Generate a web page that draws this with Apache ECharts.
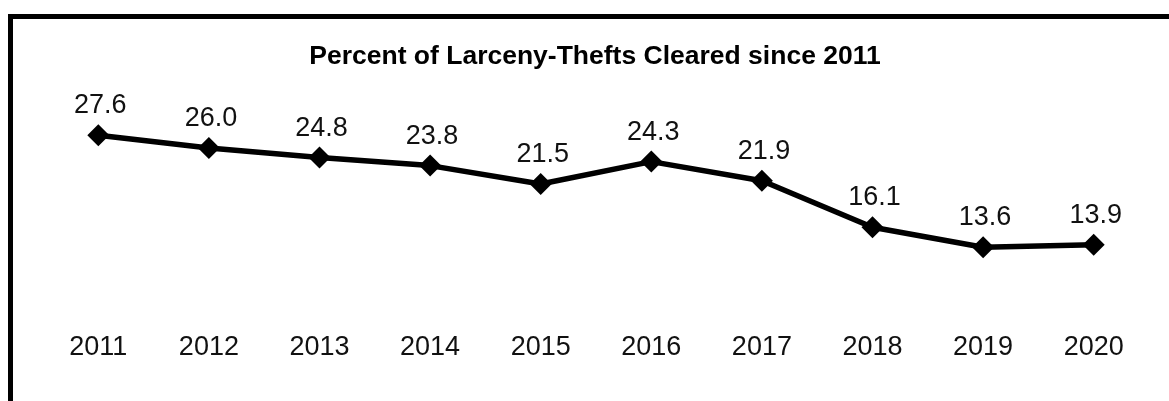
<!DOCTYPE html>
<html>
<head>
<meta charset="utf-8">
<script src="https://cdn.jsdelivr.net/npm/echarts@6/dist/echarts.min.js"></script>
<style>
  html, body { margin: 0; padding: 0; background: #fff; }
  #frame {
    position: absolute; left: 8px; top: 14px; width: 1300px; height: 500px;
    border-top: 5px solid #000; border-left: 5px solid #000;
  }
  #chart { position: absolute; left: 0; top: 0; width: 1169px; height: 401px; }
</style>
</head>
<body>
<div id="frame"></div>
<div id="chart"></div>
<script>
// 年份 / 破案率
const years = ['2011', '2012', '2013', '2014', '2015', '2016', '2017', '2018', '2019', '2020'];
const cleared = [27.6, 26.0, 24.8, 23.8, 21.5, 24.3, 21.9, 16.1, 13.6, 13.9];

const chart = echarts.init(document.getElementById('chart'));
const font = '"Liberation Sans", Arial, sans-serif';

chart.setOption({
    animation: false,
    title: {
        text: 'Percent of Larceny-Thefts Cleared since 2011',
        left: 590,
        top: 38,
        textAlign: 'center',
        textStyle: { fontFamily: font, fontSize: 26.5, fontWeight: 'bold', color: '#000' }
    },
    grid: { left: 43, right: 20, top: 116, bottom: 45 },
    xAxis: {
        type: 'category',
        data: years,
        axisLine: { show: false },
        axisTick: { show: false },
        axisLabel: { margin: -22, fontFamily: font, fontSize: 27, color: '#111' }
    },
    yAxis: {
        type: 'value',
        min: 0,
        max: 30,
        show: false
    },
    series: [{
        type: 'line',
        data: cleared,
        symbol: 'diamond',
        symbolSize: 22,
        lineStyle: { color: '#000', width: 5.5 },
        itemStyle: { color: '#000' },
        label: {
            show: true,
            position: 'top',
            distance: 5,
            offset: [2, 0],
            formatter: p => p.value.toFixed(1),
            fontFamily: font,
            fontSize: 27,
            color: '#111'
        }
    }]
});
</script>
</body>
</html>
